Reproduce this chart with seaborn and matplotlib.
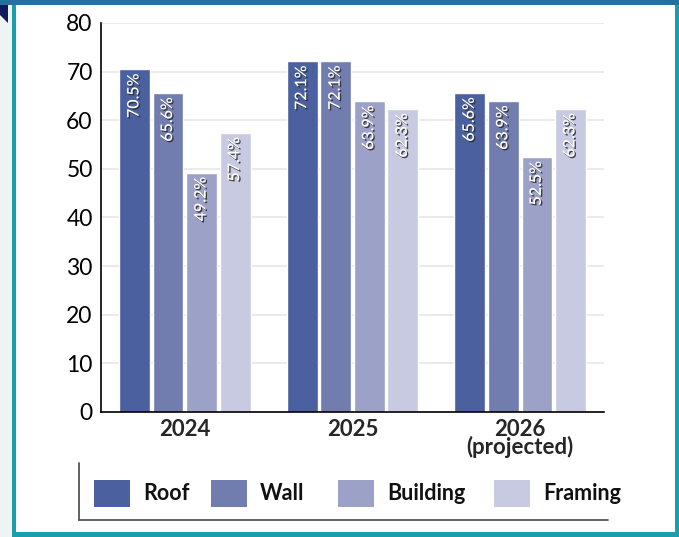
import matplotlib
matplotlib.use("Agg")
import matplotlib.pyplot as plt
import matplotlib.patheffects as pe
from matplotlib.patches import Rectangle, Polygon
from matplotlib.lines import Line2D
import pandas as pd
import seaborn as sns

# ---- data -------------------------------------------------------------
years = ["2024", "2025", "2026\n(projected)"]
materials = ["Roof", "Wall", "Building", "Framing"]
roof = [70.5, 72.1, 65.6]
wall = [65.6, 72.1, 63.9]
building = [49.2, 63.9, 52.5]
framing = [57.4, 62.3, 62.3]
y_ticks = [0, 10, 20, 30, 40, 50, 60, 70, 80]

colors = ["#4a609f", "#717caf", "#9ca1c8", "#c7cae1"]
series = [roof, wall, building, framing]

rows = []
for mat, vals in zip(materials, series):
    for yr, v in zip(years, vals):
        rows.append({"Year": yr, "Material": mat, "Share": v})
df = pd.DataFrame(rows)

# ---- style ------------------------------------------------------------
sns.set_style("white")
plt.rcParams["font.family"] = ["Lato", "DejaVu Sans"]

W, H = 679, 537
fig = plt.figure(figsize=(W / 100, H / 100), dpi=100)
fig.patch.set_facecolor("white")


def fx(px):
    return px / W


def fy(py):
    return 1 - py / H


ax = fig.add_axes([fx(101), fy(412), (604 - 101) / W, (412 - 23) / H])

sns.barplot(data=df, x="Year", y="Share", hue="Material",
            order=years, hue_order=materials, palette=colors,
            width=0.8, gap=0.08, saturation=1, legend=False, ax=ax)

ax.set_xlim(-0.5, 2.5)
ax.set_ylim(0, 80)
ax.set_yticks(y_ticks)
ax.set_xlabel("")
ax.set_ylabel("")

ax.yaxis.grid(True, color="#e6e6e6", lw=1.2)
ax.xaxis.grid(False)
ax.set_axisbelow(True)

for side in ("top", "right"):
    ax.spines[side].set_visible(False)
for side in ("left", "bottom"):
    ax.spines[side].set_color("black")
    ax.spines[side].set_linewidth(1.2)

ax.tick_params(axis="y", direction="in", length=9.5, width=1.1, pad=6,
               labelsize=16.5, colors="black")
ax.tick_params(axis="x", which="major", length=0, pad=5, labelsize=16)
ax.set_xticks([0.5, 1.5, 2.5], minor=True)
ax.tick_params(axis="x", which="minor", direction="in", length=7, width=1.1,
               color="black")
for lbl in ax.get_xticklabels():
    lbl.set_fontweight("bold")
    lbl.set_linespacing(0.8)

# value labels inside each bar, rotated
shadow = [pe.withSimplePatchShadow(offset=(1, -1), shadow_rgbFace="#2a2a2a",
                                   alpha=0.85)]
for cont, vals in zip(ax.containers, series):
    for bar, v in zip(cont, vals):
        ax.annotate(f"{v:.1f}%", xy=(bar.get_x() + bar.get_width() / 2, v),
                    xytext=(0, -3), textcoords="offset points",
                    rotation=90, ha="center", va="top", color="white",
                    fontsize=11.5, fontweight="semibold", path_effects=shadow)

# ---- legend -----------------------------------------------------------
legend_x = [94, 211, 338, 494]
for x0, mat, col in zip(legend_x, materials, colors):
    fig.add_artist(Rectangle((fx(x0), fy(507)), 36 / W, 27 / H,
                             transform=fig.transFigure, facecolor=col,
                             edgecolor="none"))
    fig.text(fx(x0 + 49), fy(493.5), mat, ha="left", va="center",
             fontsize=15.5, fontweight="bold", color="#111111")

fig.add_artist(Line2D([fx(79), fx(79)], [fy(463), fy(520)],
                      transform=fig.transFigure, color="#555555", lw=1.3))
fig.add_artist(Line2D([fx(79), fx(608)], [fy(520), fy(520)],
                      transform=fig.transFigure, color="#555555", lw=1.3))

# ---- page frame -------------------------------------------------------
fig.add_artist(Rectangle((0, 0), fx(12), 1, transform=fig.transFigure,
                         facecolor="#eef3f4", edgecolor="none", zorder=0))
teal = "#1a9ead"
fig.add_artist(Rectangle((fx(12), 0), 4 / W, 1, transform=fig.transFigure,
                         facecolor=teal, edgecolor="none"))
fig.add_artist(Rectangle((fx(12), 0), 1 - fx(12), 5 / H,
                         transform=fig.transFigure, facecolor=teal,
                         edgecolor="none"))
fig.add_artist(Rectangle((fx(675), 0), 4 / W, 1, transform=fig.transFigure,
                         facecolor=teal, edgecolor="none"))
fig.add_artist(Rectangle((0, fy(5)), 1, 5 / H, transform=fig.transFigure,
                         facecolor="#2470a0", edgecolor="none"))
fig.add_artist(Polygon([(fx(0), fy(5)), (fx(8), fy(5)), (fx(8), fy(23)),
                        (fx(0), fy(15))], closed=True,
                       transform=fig.transFigure, facecolor="#0d1b5e",
                       edgecolor="none"))

fig.savefig("out.png", dpi=100)
